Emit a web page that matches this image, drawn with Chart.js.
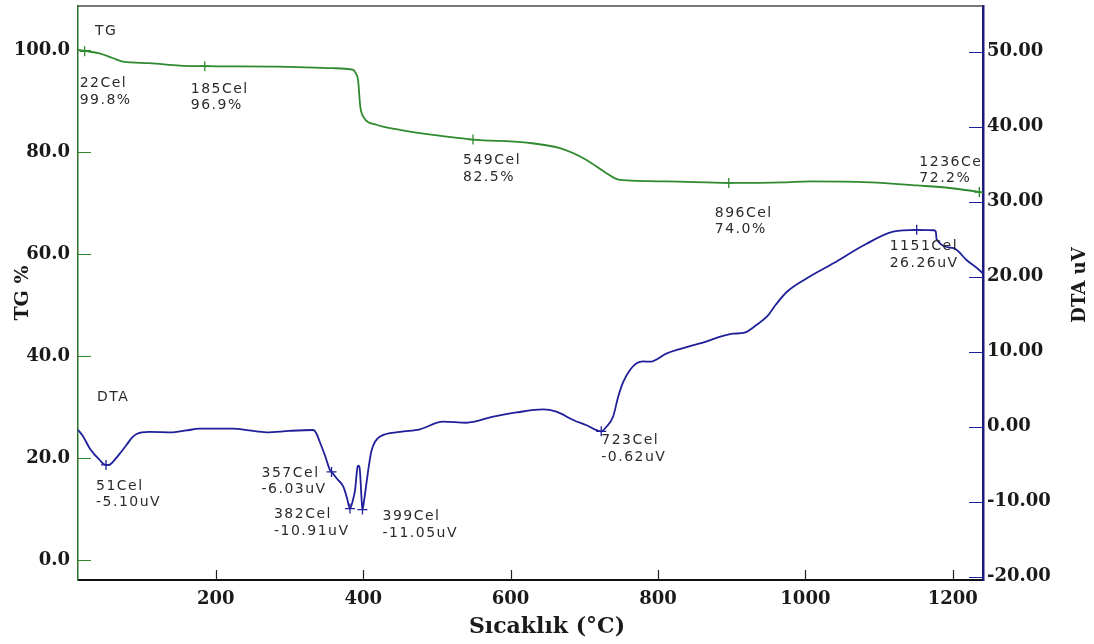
<!DOCTYPE html>
<html>
<head>
<meta charset="utf-8">
<script src="https://cdn.jsdelivr.net/npm/chart.js@4/dist/chart.umd.min.js"></script>
<style>
  html, body { margin: 0; padding: 0; background: #fff; }
  #wrap { width: 1094px; height: 644px; position: relative; }
</style>
</head>
<body>
<div id="wrap"><canvas id="thermo"></canvas></div>
<script>
// TG curve (mass %)
const tgTemp = [13, 22, 42, 60, 74, 110, 151, 185, 282, 359, 386, 390, 393, 396, 400, 418, 450, 495, 549, 622, 667, 703, 730, 748, 812, 896, 970, 1006, 1088, 1151, 1196, 1237, 1241];
const tgMass = [100.1, 99.9, 99.4, 98.5, 97.8, 97.5, 97.0, 96.9, 96.8, 96.5, 96.2, 95.5, 94.2, 89.0, 87.0, 85.4, 84.4, 83.4, 82.5, 81.9, 80.8, 78.5, 75.9, 74.6, 74.3, 74.0, 74.1, 74.3, 74.1, 73.5, 73.0, 72.2, 72.1];

// DTA curve (uV)
const dtaTemp = [13, 20, 29, 42, 51, 57, 63, 72, 79, 86, 92, 110, 142, 160, 178, 223, 245, 269, 300, 332, 336, 341, 348, 355, 357, 365, 373, 378, 382, 386, 389, 392, 393, 395, 396, 398, 399, 401, 405, 408, 411, 416, 423, 450, 477, 508, 540, 575, 608, 644, 662, 685, 703, 723, 730, 739, 746, 753, 762, 771, 780, 789, 812, 857, 902, 916, 934, 948, 960, 975, 1002, 1038, 1083, 1119, 1151, 1174, 1177, 1178, 1201, 1219, 1237, 1241];
const dtaSignal = [-0.4, -1.3, -2.9, -4.4, -5.1, -5.0, -4.4, -3.3, -2.4, -1.5, -1.0, -0.7, -0.75, -0.5, -0.26, -0.26, -0.5, -0.75, -0.55, -0.44, -0.8, -2.0, -3.8, -5.8, -6.03, -7.0, -8.0, -9.5, -10.91, -9.8, -8.4, -5.5, -5.2, -5.4, -6.5, -10.0, -11.05, -10.0, -7.1, -5.0, -3.3, -2.0, -1.3, -0.7, -0.35, 0.67, 0.53, 1.3, 1.9, 2.3, 2.0, 0.9, 0.2, -0.62, 0.0, 1.33, 4.0, 6.0, 7.56, 8.45, 8.7, 8.67, 9.78, 11.1, 12.4, 12.5, 13.6, 14.7, 16.3, 18.0, 19.8, 21.8, 24.4, 26.0, 26.26, 26.2, 26.0, 25.0, 23.8, 22.2, 20.8, 20.4];

// marked points
const tgPeakTemp = [22, 185, 549, 896, 1236];
const tgPeakMass = [99.8, 96.9, 82.5, 74.0, 72.2];
const dtaPeakTemp = [51, 357, 382, 399, 723, 1151];
const dtaPeakSignal = [-5.10, -6.03, -10.91, -11.05, -0.62, 26.26];

// tick values
const tempTicks = [200, 400, 600, 800, 1000, 1200];
const tgTicks = [0, 20, 40, 60, 80, 100];
const dtaTicks = [-20, -10, 0, 10, 20, 30, 40, 50];

const GREEN = '#2f8a2f';
const NAVY = '#1f1f9a';
const tickFont = { family: 'DejaVu Serif', size: 18, weight: 'bold' };
const noteFont = '14px "DejaVu Sans"';

const pairs = (xs, ys) => xs.map((x, i) => ({ x: x, y: ys[i] }));

// label offsets from the marked point: [dx, dy of first line]
const tgNoteOffsets = [[-5, 32], [-14, 23], [-10, 21], [-14, 30], [-60, -30]];
const dtaNoteOffsets = [[-10, 21], [-70, 1], [-76, 6], [20, 7], [0, 9], [-27, 17]];

// keep the plot box fixed: no label overhang padding
const fixBox = (w, h) => s => {
  if (w) s.width = w;
  if (h) s.height = h;
  s.paddingTop = 0; s.paddingBottom = 0; s.paddingLeft = 0; s.paddingRight = 0;
};

const decor = {
  id: 'decor',
  afterDatasetsDraw(chart) {
    const { ctx, chartArea: a, scales } = chart;
    const x = scales.x, yl = scales.yTG, yr = scales.yDTA;
    ctx.save();

    // top frame line
    ctx.strokeStyle = '#4d4d4d';
    ctx.lineWidth = 1.5;
    ctx.beginPath();
    ctx.moveTo(a.left, a.top);
    ctx.lineTo(a.right, a.top);
    ctx.stroke();

    // tick marks pointing inward
    ctx.lineWidth = 1.2;
    ctx.strokeStyle = '#222';
    ctx.beginPath();
    tempTicks.forEach(v => {
      const px = Math.round(x.getPixelForValue(v)) + 0.5;
      ctx.moveTo(px, a.bottom);
      ctx.lineTo(px, a.bottom - 10);
    });
    ctx.stroke();
    ctx.strokeStyle = GREEN;
    ctx.beginPath();
    tgTicks.forEach(v => {
      const py = Math.round(yl.getPixelForValue(v)) + 0.5;
      ctx.moveTo(a.left, py);
      ctx.lineTo(a.left + 13, py);
    });
    ctx.stroke();
    ctx.strokeStyle = NAVY;
    ctx.beginPath();
    dtaTicks.forEach(v => {
      const py = Math.round(yr.getPixelForValue(v)) + 0.5;
      ctx.moveTo(a.right, py);
      ctx.lineTo(a.right - 14, py);
    });
    ctx.stroke();

    // notes, clipped to the plot area
    ctx.beginPath();
    ctx.rect(a.left, a.top, a.right - a.left, a.bottom - a.top);
    ctx.clip();
    ctx.font = noteFont;
    ctx.letterSpacing = '1.5px';
    ctx.fillStyle = '#2b2b2b';
    ctx.textAlign = 'left';
    ctx.textBaseline = 'middle';

    const note = (t, v, unit, digits, off, scaleY) => {
      const px = x.getPixelForValue(t) + off[0];
      const py = scaleY.getPixelForValue(v) + off[1];
      ctx.fillText(t + 'Cel', px, py);
      ctx.fillText(v.toFixed(digits) + unit, px, py + 16.5);
    };
    tgPeakTemp.forEach((t, i) => note(t, tgPeakMass[i], '%', 1, tgNoteOffsets[i], yl));
    dtaPeakTemp.forEach((t, i) => note(t, dtaPeakSignal[i], 'uV', 2, dtaNoteOffsets[i], yr));

    // series names near the start of each curve
    ctx.fillText('TG', x.getPixelForValue(tgTemp[0]) + 17, yl.getPixelForValue(tgMass[0]) - 18);
    ctx.fillText('DTA', x.getPixelForValue(dtaTemp[0]) + 19, yr.getPixelForValue(dtaSignal[0]) - 32);
    ctx.restore();
  },
  afterDraw(chart) {
    const { ctx } = chart;
    ctx.save();
    ctx.fillStyle = '#1a1a1a';
    ctx.textAlign = 'center';
    ctx.textBaseline = 'middle';
    // bottom axis title
    ctx.font = 'bold 22px "DejaVu Serif"';
    ctx.fillText('Sıcaklık (°C)', 547, chart.height - 17);
    // right axis title, reading upward
    ctx.translate(chart.width - 14, 285);
    ctx.rotate(-Math.PI / 2);
    ctx.font = 'bold 18px "DejaVu Serif"';
    ctx.fillText('DTA uV', 0, 0);
    ctx.restore();
  }
};

new Chart(document.getElementById('thermo'), {
  type: 'line',
  data: {
    datasets: [
      {
        label: 'TG',
        data: pairs(tgTemp, tgMass),
        yAxisID: 'yTG',
        borderColor: GREEN,
        borderWidth: 1.8,
        pointRadius: 0,
        cubicInterpolationMode: 'monotone',
      },
      {
        label: 'DTA',
        data: pairs(dtaTemp, dtaSignal),
        yAxisID: 'yDTA',
        borderColor: NAVY,
        borderWidth: 1.8,
        pointRadius: 0,
        cubicInterpolationMode: 'monotone',
      },
      {
        label: 'TG marks',
        data: pairs(tgPeakTemp, tgPeakMass),
        yAxisID: 'yTG',
        showLine: false,
        pointStyle: 'cross',
        pointRadius: 5,
        pointBorderWidth: 1.3,
        pointBorderColor: GREEN,
      },
      {
        label: 'DTA marks',
        data: pairs(dtaPeakTemp, dtaPeakSignal),
        yAxisID: 'yDTA',
        showLine: false,
        pointStyle: 'cross',
        pointRadius: 5,
        pointBorderWidth: 1.3,
        pointBorderColor: NAVY,
      }
    ]
  },
  options: {
    responsive: true,
    maintainAspectRatio: false,
    animation: false,
    layout: { autoPadding: false, padding: { top: 6, left: 0, right: 0, bottom: 0 } },
    scales: {
      x: {
        type: 'linear',
        position: 'bottom',
        min: 13,
        max: 1241,
        afterBuildTicks: s => { s.ticks = tempTicks.map(v => ({ value: v })); },
        afterFit: fixBox(0, 64),
        grid: { display: false, drawTicks: false },
        border: { display: true, color: '#111', width: 2 },
        ticks: { font: tickFont, color: '#1a1a1a', padding: 9, maxRotation: 0, callback: v => String(v) }
      },
      yTG: {
        type: 'linear',
        position: 'left',
        min: -3.9,
        max: 108.7,
        afterBuildTicks: s => { s.ticks = tgTicks.map(v => ({ value: v })); },
        afterFit: fixBox(78, 0),
        grid: { display: false, drawTicks: false },
        border: { display: true, color: '#2a702a', width: 1.5 },
        ticks: { font: tickFont, color: '#1a1a1a', padding: 8, callback: v => v.toFixed(1) },
        title: {
          display: true,
          text: 'TG %',
          font: { family: 'DejaVu Serif', size: 19, weight: 'bold' },
          color: '#1a1a1a',
          padding: { top: 12, bottom: 0 }
        }
      },
      yDTA: {
        type: 'linear',
        position: 'right',
        min: -20.44,
        max: 56.1,
        afterBuildTicks: s => { s.ticks = dtaTicks.map(v => ({ value: v })); },
        afterFit: fixBox(111, 0),
        grid: { display: false, drawTicks: false },
        border: { display: true, color: '#1a1a80', width: 2.5 },
        ticks: { font: tickFont, color: '#1a1a1a', padding: 4, callback: v => v.toFixed(2) }
      }
    },
    plugins: {
      legend: { display: false },
      tooltip: { enabled: false }
    }
  },
  plugins: [decor]
});
</script>
</body>
</html>
